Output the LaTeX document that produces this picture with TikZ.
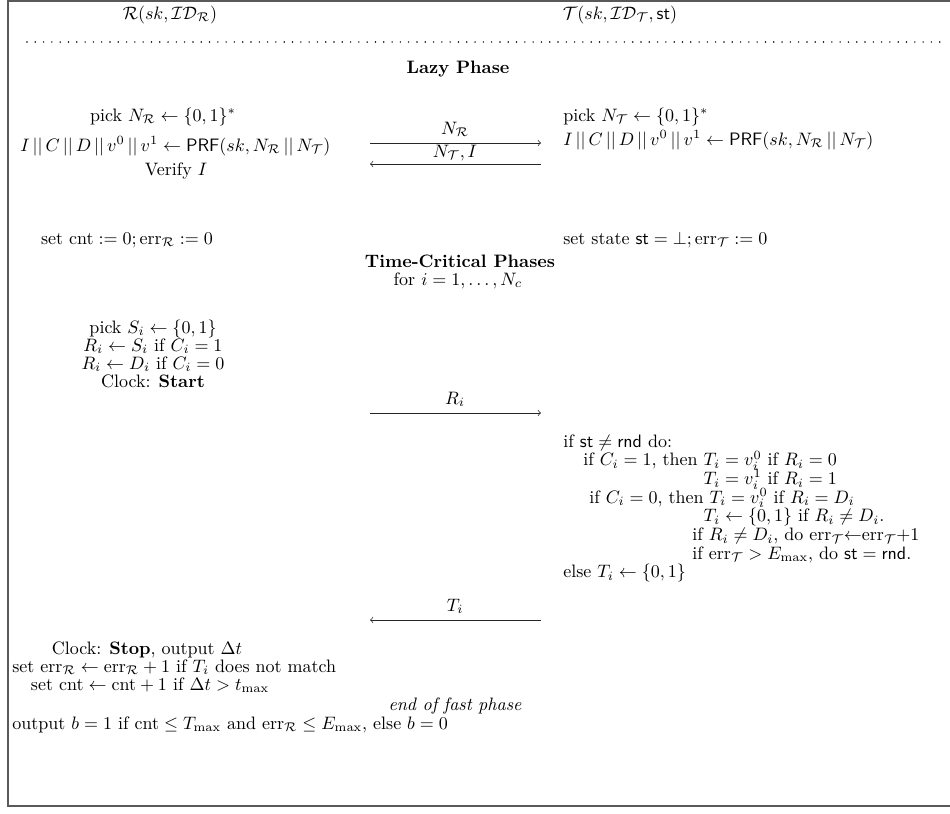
\documentclass[tikz,border=0pt]{standalone}
\usepackage{amsmath,amssymb}
\newcommand{\cc}{\,||\,}
\newcommand{\thenpad}{\phantom{if $C_i=1$, then }}
\begin{document}
\begin{tikzpicture}[x=0.5556pt,y=-0.5556pt,
  txt/.style={inner sep=0pt,anchor=base},
  ltxt/.style={inner sep=0pt,anchor=base west},
  msg/.style={->,line width=0.4pt,black!85},
  lbl/.style={inner sep=0pt,anchor=base}]
\useasboundingbox (0,0) rectangle (950,813);
\draw[black!65,line width=0.8pt] (8,1) rectangle (970,806);
% header
\node[txt] (R) at (170,19) {$\mathcal{R}(sk,\mathcal{ID}_{\mathcal{R}})$};
\node[txt] (T) at (620,19) {$\mathcal{T}(sk,\mathcal{ID}_{\mathcal{T}},\mathsf{st})$};
\coordinate (d1) at (27,42);
\coordinate (d2) at (942,42);
\draw[line width=0.9pt,line cap=round,dash pattern=on 0pt off 4.61pt] (d1) -- (d2);
% lazy phase
\node[txt,font=\bfseries] (lazy) at (458,73) {Lazy Phase};
\node[txt] (pickR) at (163,121) {pick $N_{\mathcal{R}}\leftarrow\{0,1\}^*$};
\node[ltxt] (pickT) at (563,121) {pick $N_{\mathcal{T}}\leftarrow\{0,1\}^*$};
\node[ltxt] (prfR) at (20,151) {$I\cc C\cc D\cc v^0\cc v^1\leftarrow\mathsf{PRF}(sk,N_{\mathcal{R}}\cc N_{\mathcal{T}})$};
\node[ltxt] (prfT) at (563,145) {$I\cc C\cc D\cc v^0\cc v^1\leftarrow\mathsf{PRF}(sk,N_{\mathcal{R}}\cc N_{\mathcal{T}})$};
\node[txt] (ver) at (176,175) {Verify $I$};
\coordinate (a1l) at (370,143);
\coordinate (a1r) at (541,143);
\draw[msg] (a1l) -- (a1r);
\node[lbl] (m1) at (455,134) {$N_{\mathcal{R}}$};
\coordinate (a2l) at (370,164);
\coordinate (a2r) at (541,164);
\draw[msg] (a2r) -- (a2l);
\node[lbl] (m2) at (455,157) {$N_{\mathcal{T}},I$};
\node[txt] (setR) at (127,244) {set $\mathrm{cnt}:=0;\mathrm{err}_{\mathcal{R}}:=0$};
\node[ltxt] (setT) at (563,244) {set state $\mathsf{st}=\bot;\mathrm{err}_{\mathcal{T}}:=0$};
% time-critical
\node[txt,font=\bfseries] (tc) at (460,267) {Time-Critical Phases};
\node[txt] (for) at (458,285) {for $i=1,\ldots,N_c$};
\node[txt] (lblock) at (153,333) {\vtop{\baselineskip=10pt\lineskiplimit=-100pt
  \halign{\hfil#\hfil\cr
  pick $S_i\leftarrow\{0,1\}$\cr
  $R_i\leftarrow S_i$ if $C_i=1$\cr
  $R_i\leftarrow D_i$ if $C_i=0$\cr
  Clock: \textbf{Start}\cr}}};
\coordinate (a3l) at (370,413);
\coordinate (a3r) at (541,413);
\draw[msg] (a3l) -- (a3r);
\node[lbl] (m3) at (455,404) {$R_i$};
\node[ltxt] (rblock) at (563,447) {\vtop{\baselineskip=10.39pt\lineskiplimit=-100pt
  \hbox{if $\mathsf{st}\neq\mathsf{rnd}$ do:}
  \hbox{\kern11.1pt if $C_i=1$, then $T_i=v_i^0$ if $R_i=0$}
  \hbox{\kern11.1pt\thenpad$T_i=v_i^1$ if $R_i=1$}
  \hbox{\kern14.4pt if $C_i=0$, then $T_i=v_i^0$ if $R_i=D_i$}
  \hbox{\kern11.1pt\thenpad$T_i\leftarrow\{0,1\}$ if $R_i\neq D_i$.}
  \hbox{\kern71.7pt if $R_i\neq D_i$, do $\mathrm{err}_{\mathcal{T}}{\leftarrow}\mathrm{err}_{\mathcal{T}}{+}1$}
  \hbox{\kern71.7pt if $\mathrm{err}_{\mathcal{T}}>E_{\max}$, do $\mathsf{st}=\mathsf{rnd}$.}
  \hbox{else $T_i\leftarrow\{0,1\}$}}};
\coordinate (a4l) at (370,620);
\coordinate (a4r) at (541,620);
\draw[msg] (a4r) -- (a4l);
\node[lbl] (m4) at (455,611) {$T_i$};
\node[txt] (s1) at (147,654) {Clock: \textbf{Stop}, output $\Delta t$};
\node[ltxt] (s2) at (12,672) {set $\mathrm{err}_{\mathcal{R}}\leftarrow\mathrm{err}_{\mathcal{R}}+1$ if $T_i$ does not match};
\node[txt] (s3) at (150,690) {set $\mathrm{cnt}\leftarrow\mathrm{cnt}+1$ if $\Delta t>t_{\max}$};
\node[txt,font=\itshape] (endf) at (455,710) {end of fast phase};
\node[ltxt] (out) at (12,729) {output $b=1$ if $\mathrm{cnt}\leq T_{\max}$ and $\mathrm{err}_{\mathcal{R}}\leq E_{\max}$, else $b=0$};
\end{tikzpicture}
\end{document}
